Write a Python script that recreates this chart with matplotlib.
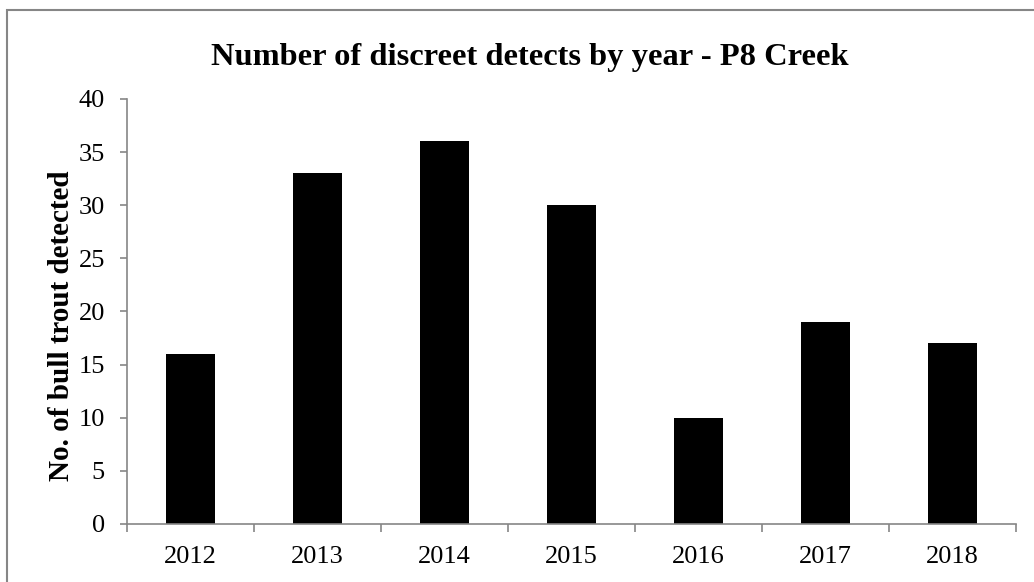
import matplotlib.pyplot as plt
from matplotlib.patches import Rectangle

plt.rcParams['font.family'] = 'Liberation Serif'

years = ["2012", "2013", "2014", "2015", "2016", "2017", "2018"]
detects = [16, 33, 36, 30, 10, 19, 17]

axis_grey = "#868686"

fig = plt.figure(figsize=(10.34, 5.82), dpi=100)
ax = fig.add_axes([0.1228, 0.0997, 0.8598, 0.7302])

x = list(range(len(years)))
ax.bar(x, detects, width=0.39, color="black")

ax.set_xlim(-0.5, len(years) - 0.5)
ax.set_ylim(0, 40)
ax.set_yticks(range(0, 41, 5))
ax.set_xticks(x)
ax.set_xticklabels(years)
# category boundaries carry the x tick marks
ax.set_xticks([i - 0.5 for i in range(len(years) + 1)], minor=True)
ax.tick_params(axis="x", which="major", length=0, pad=16, labelsize=19)
ax.tick_params(axis="x", which="minor", length=6, color=axis_grey, width=1.2)
ax.tick_params(axis="y", length=5, color=axis_grey, width=1.2, labelsize=19, pad=11)

for side in ["top", "right"]:
    ax.spines[side].set_visible(False)
for side in ["left", "bottom"]:
    ax.spines[side].set_color(axis_grey)
    ax.spines[side].set_linewidth(1.2)

ax.set_ylabel("No. of bull trout detected", fontsize=21, fontweight="bold")
ax.yaxis.set_label_coords(-0.059, 0.466)
fig.text(0.5126, 0.902, "Number of discreet detects by year - P8 Creek",
         ha="center", va="center", fontsize=23.4, fontweight="bold")

# chart border, running off the right and bottom edges
fig.patches.append(Rectangle((7 / 1034, -0.05), 1.2, 1 - 10 / 582 + 0.05,
                             transform=fig.transFigure, fill=False,
                             edgecolor=axis_grey, linewidth=1.5))

fig.savefig("out.png", dpi=100)
